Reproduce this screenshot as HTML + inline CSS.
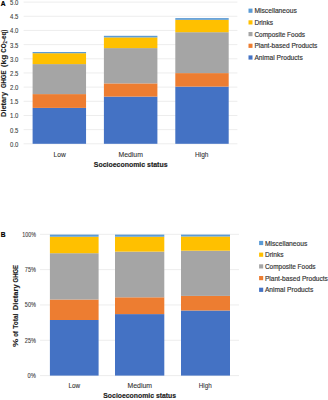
<!DOCTYPE html>
<html><head><meta charset="utf-8"><style>
html,body{margin:0;padding:0;background:#fff;width:328px;height:400px;overflow:hidden}
svg{display:block}
text{font-family:"Liberation Sans", sans-serif}
</style></head><body>
<svg width="328" height="400" viewBox="0 0 328 400">
<rect width="328" height="400" fill="#fff"/>
<rect x="23.60" y="143.30" width="213.80" height="1.00" fill="#EDEDED"/>
<rect x="23.60" y="129.13" width="213.80" height="1.00" fill="#EDEDED"/>
<rect x="23.60" y="114.96" width="213.80" height="1.00" fill="#EDEDED"/>
<rect x="23.60" y="100.79" width="213.80" height="1.00" fill="#EDEDED"/>
<rect x="23.60" y="86.62" width="213.80" height="1.00" fill="#EDEDED"/>
<rect x="23.60" y="72.45" width="213.80" height="1.00" fill="#EDEDED"/>
<rect x="23.60" y="58.28" width="213.80" height="1.00" fill="#EDEDED"/>
<rect x="23.60" y="44.11" width="213.80" height="1.00" fill="#EDEDED"/>
<rect x="23.60" y="29.94" width="213.80" height="1.00" fill="#EDEDED"/>
<rect x="23.60" y="15.77" width="213.80" height="1.00" fill="#EDEDED"/>
<rect x="23.60" y="1.60" width="213.80" height="1.00" fill="#EDEDED"/>
<text x="18.40" y="146.80" font-size="6.4" text-anchor="end" font-weight="normal" fill="#404040" stroke="#404040" stroke-width="0.1" textLength="8.30" lengthAdjust="spacingAndGlyphs" >0.0</text>
<text x="18.40" y="132.63" font-size="6.4" text-anchor="end" font-weight="normal" fill="#404040" stroke="#404040" stroke-width="0.1" textLength="8.30" lengthAdjust="spacingAndGlyphs" >0.5</text>
<text x="18.40" y="118.46" font-size="6.4" text-anchor="end" font-weight="normal" fill="#404040" stroke="#404040" stroke-width="0.1" textLength="8.30" lengthAdjust="spacingAndGlyphs" >1.0</text>
<text x="18.40" y="104.29" font-size="6.4" text-anchor="end" font-weight="normal" fill="#404040" stroke="#404040" stroke-width="0.1" textLength="8.30" lengthAdjust="spacingAndGlyphs" >1.5</text>
<text x="18.40" y="90.12" font-size="6.4" text-anchor="end" font-weight="normal" fill="#404040" stroke="#404040" stroke-width="0.1" textLength="8.30" lengthAdjust="spacingAndGlyphs" >2.0</text>
<text x="18.40" y="75.95" font-size="6.4" text-anchor="end" font-weight="normal" fill="#404040" stroke="#404040" stroke-width="0.1" textLength="8.30" lengthAdjust="spacingAndGlyphs" >2.5</text>
<text x="18.40" y="61.78" font-size="6.4" text-anchor="end" font-weight="normal" fill="#404040" stroke="#404040" stroke-width="0.1" textLength="8.30" lengthAdjust="spacingAndGlyphs" >3.0</text>
<text x="18.40" y="47.61" font-size="6.4" text-anchor="end" font-weight="normal" fill="#404040" stroke="#404040" stroke-width="0.1" textLength="8.30" lengthAdjust="spacingAndGlyphs" >3.5</text>
<text x="18.40" y="33.44" font-size="6.4" text-anchor="end" font-weight="normal" fill="#404040" stroke="#404040" stroke-width="0.1" textLength="8.30" lengthAdjust="spacingAndGlyphs" >4.0</text>
<text x="18.40" y="19.27" font-size="6.4" text-anchor="end" font-weight="normal" fill="#404040" stroke="#404040" stroke-width="0.1" textLength="8.30" lengthAdjust="spacingAndGlyphs" >4.5</text>
<text x="18.40" y="5.10" font-size="6.4" text-anchor="end" font-weight="normal" fill="#404040" stroke="#404040" stroke-width="0.1" textLength="8.30" lengthAdjust="spacingAndGlyphs" >5.0</text>
<rect x="32.60" y="107.90" width="53.45" height="35.90" fill="#4472C4"/>
<rect x="32.60" y="94.10" width="53.45" height="13.80" fill="#ED7D31"/>
<rect x="32.60" y="64.10" width="53.45" height="30.00" fill="#A5A5A5"/>
<rect x="32.60" y="53.20" width="53.45" height="10.90" fill="#FFC000"/>
<rect x="32.60" y="52.00" width="53.45" height="1.20" fill="#5B9BD5"/>
<rect x="103.90" y="96.60" width="53.50" height="47.20" fill="#4472C4"/>
<rect x="103.90" y="83.40" width="53.50" height="13.20" fill="#ED7D31"/>
<rect x="103.90" y="48.10" width="53.50" height="35.30" fill="#A5A5A5"/>
<rect x="103.90" y="37.40" width="53.50" height="10.70" fill="#FFC000"/>
<rect x="103.90" y="35.80" width="53.50" height="1.60" fill="#5B9BD5"/>
<rect x="175.30" y="86.60" width="53.40" height="57.20" fill="#4472C4"/>
<rect x="175.30" y="73.10" width="53.40" height="13.50" fill="#ED7D31"/>
<rect x="175.30" y="32.20" width="53.40" height="40.90" fill="#A5A5A5"/>
<rect x="175.30" y="19.80" width="53.40" height="12.40" fill="#FFC000"/>
<rect x="175.30" y="18.10" width="53.40" height="1.70" fill="#5B9BD5"/>
<text x="59.70" y="156.80" font-size="6.7" text-anchor="middle" font-weight="normal" fill="#333333" stroke="#333333" stroke-width="0.1" textLength="12.20" lengthAdjust="spacingAndGlyphs" >Low</text>
<text x="130.70" y="156.90" font-size="6.7" text-anchor="middle" font-weight="normal" fill="#333333" stroke="#333333" stroke-width="0.1" textLength="24.40" lengthAdjust="spacingAndGlyphs" >Medium</text>
<text x="201.70" y="156.90" font-size="6.7" text-anchor="middle" font-weight="normal" fill="#333333" stroke="#333333" stroke-width="0.1" textLength="13.40" lengthAdjust="spacingAndGlyphs" >High</text>
<text x="93.80" y="167.20" font-size="6.9" text-anchor="start" font-weight="bold" fill="#1a1a1a" stroke="#1a1a1a" stroke-width="0.15" textLength="73.70" lengthAdjust="spacingAndGlyphs" >Socioeconomic status</text>
<g transform="translate(6.0,117.2) rotate(-90)">
<text x="0.30" y="0.00" font-size="6.9" text-anchor="start" font-weight="bold" fill="#1a1a1a" stroke="#1a1a1a" stroke-width="0.12" textLength="25.00" lengthAdjust="spacingAndGlyphs" >Dietary</text>
<text x="29.10" y="0.00" font-size="6.9" text-anchor="start" font-weight="bold" fill="#1a1a1a" stroke="#1a1a1a" stroke-width="0.12" textLength="17.60" lengthAdjust="spacingAndGlyphs" >GHGE</text>
<text x="49.90" y="0.00" font-size="6.9" text-anchor="start" font-weight="bold" fill="#1a1a1a" stroke="#1a1a1a" stroke-width="0.12" textLength="12.60" lengthAdjust="spacingAndGlyphs" >(kg</text>
<text x="64.50" y="0.00" font-size="6.9" text-anchor="start" font-weight="bold" fill="#1a1a1a" stroke="#1a1a1a" stroke-width="0.12" textLength="23.00" lengthAdjust="spacingAndGlyphs" >CO<tspan font-size="4.6" dy="0.9">2</tspan><tspan dy="-0.9">-eq)</tspan></text>
</g>
<text x="0.80" y="5.60" font-size="6.6" text-anchor="start" font-weight="bold" fill="#000" stroke="#000" stroke-width="0.2" >A</text>
<rect x="248.50" y="8.60" width="4.00" height="4.20" fill="#5B9BD5"/>
<text x="254.40" y="13.20" font-size="7.6" text-anchor="start" font-weight="normal" fill="#333333" stroke="#333333" stroke-width="0.18" textLength="42.50" lengthAdjust="spacingAndGlyphs" >Miscellaneous</text>
<rect x="248.50" y="20.30" width="4.00" height="4.20" fill="#FFC000"/>
<text x="254.40" y="24.90" font-size="7.6" text-anchor="start" font-weight="normal" fill="#333333" stroke="#333333" stroke-width="0.18" textLength="18.70" lengthAdjust="spacingAndGlyphs" >Drinks</text>
<rect x="248.50" y="32.00" width="4.00" height="4.20" fill="#A5A5A5"/>
<text x="254.40" y="36.60" font-size="7.6" text-anchor="start" font-weight="normal" fill="#333333" stroke="#333333" stroke-width="0.18" textLength="50.70" lengthAdjust="spacingAndGlyphs" >Composite Foods</text>
<rect x="248.50" y="43.70" width="4.00" height="4.20" fill="#ED7D31"/>
<text x="254.40" y="48.30" font-size="7.6" text-anchor="start" font-weight="normal" fill="#333333" stroke="#333333" stroke-width="0.18" textLength="63.00" lengthAdjust="spacingAndGlyphs" >Plant-based Products</text>
<rect x="248.50" y="55.40" width="4.00" height="4.20" fill="#4472C4"/>
<text x="254.40" y="60.00" font-size="7.6" text-anchor="start" font-weight="normal" fill="#333333" stroke="#333333" stroke-width="0.18" textLength="48.40" lengthAdjust="spacingAndGlyphs" >Animal Products</text>
<rect x="40.00" y="375.10" width="199.00" height="1.00" fill="#EDEDED"/>
<rect x="40.00" y="339.78" width="199.00" height="1.00" fill="#EDEDED"/>
<rect x="40.00" y="304.45" width="199.00" height="1.00" fill="#EDEDED"/>
<rect x="40.00" y="269.12" width="199.00" height="1.00" fill="#EDEDED"/>
<rect x="40.00" y="233.80" width="199.00" height="1.00" fill="#EDEDED"/>
<text x="35.90" y="378.00" font-size="6.4" text-anchor="end" font-weight="normal" fill="#404040" stroke="#404040" stroke-width="0.1" textLength="8.30" lengthAdjust="spacingAndGlyphs" >0%</text>
<text x="35.90" y="342.68" font-size="6.4" text-anchor="end" font-weight="normal" fill="#404040" stroke="#404040" stroke-width="0.1" textLength="11.10" lengthAdjust="spacingAndGlyphs" >25%</text>
<text x="35.90" y="307.35" font-size="6.4" text-anchor="end" font-weight="normal" fill="#404040" stroke="#404040" stroke-width="0.1" textLength="11.10" lengthAdjust="spacingAndGlyphs" >50%</text>
<text x="35.90" y="272.02" font-size="6.4" text-anchor="end" font-weight="normal" fill="#404040" stroke="#404040" stroke-width="0.1" textLength="11.10" lengthAdjust="spacingAndGlyphs" >75%</text>
<text x="35.90" y="236.70" font-size="6.4" text-anchor="end" font-weight="normal" fill="#404040" stroke="#404040" stroke-width="0.1" textLength="13.60" lengthAdjust="spacingAndGlyphs" >100%</text>
<rect x="49.90" y="320.00" width="48.70" height="55.60" fill="#4472C4"/>
<rect x="49.90" y="299.50" width="48.70" height="20.50" fill="#ED7D31"/>
<rect x="49.90" y="253.20" width="48.70" height="46.30" fill="#A5A5A5"/>
<rect x="49.90" y="236.70" width="48.70" height="16.50" fill="#FFC000"/>
<rect x="49.90" y="234.60" width="48.70" height="2.10" fill="#5B9BD5"/>
<rect x="115.00" y="314.10" width="49.30" height="61.50" fill="#4472C4"/>
<rect x="115.00" y="297.30" width="49.30" height="16.80" fill="#ED7D31"/>
<rect x="115.00" y="251.60" width="49.30" height="45.70" fill="#A5A5A5"/>
<rect x="115.00" y="236.70" width="49.30" height="14.90" fill="#FFC000"/>
<rect x="115.00" y="234.60" width="49.30" height="2.10" fill="#5B9BD5"/>
<rect x="181.00" y="310.50" width="49.00" height="65.10" fill="#4472C4"/>
<rect x="181.00" y="295.90" width="49.00" height="14.60" fill="#ED7D31"/>
<rect x="181.00" y="250.70" width="49.00" height="45.20" fill="#A5A5A5"/>
<rect x="181.00" y="236.50" width="49.00" height="14.20" fill="#FFC000"/>
<rect x="181.00" y="234.60" width="49.00" height="1.90" fill="#5B9BD5"/>
<text x="74.30" y="387.60" font-size="6.7" text-anchor="middle" font-weight="normal" fill="#333333" stroke="#333333" stroke-width="0.1" textLength="11.60" lengthAdjust="spacingAndGlyphs" >Low</text>
<text x="139.80" y="387.60" font-size="6.7" text-anchor="middle" font-weight="normal" fill="#333333" stroke="#333333" stroke-width="0.1" textLength="24.40" lengthAdjust="spacingAndGlyphs" >Medium</text>
<text x="205.25" y="387.60" font-size="6.7" text-anchor="middle" font-weight="normal" fill="#333333" stroke="#333333" stroke-width="0.1" textLength="12.90" lengthAdjust="spacingAndGlyphs" >High</text>
<text x="103.30" y="398.40" font-size="6.9" text-anchor="start" font-weight="bold" fill="#1a1a1a" stroke="#1a1a1a" stroke-width="0.15" textLength="72.80" lengthAdjust="spacingAndGlyphs" >Socioeconomic status</text>
<g transform="translate(17.6,347.4) rotate(-90)">
<text x="0.30" y="0.00" font-size="6.9" text-anchor="start" font-weight="bold" fill="#1a1a1a" stroke="#1a1a1a" stroke-width="0.12" textLength="8.40" lengthAdjust="spacingAndGlyphs" >%</text>
<text x="10.55" y="0.00" font-size="6.9" text-anchor="start" font-weight="bold" fill="#1a1a1a" stroke="#1a1a1a" stroke-width="0.12" textLength="5.65" lengthAdjust="spacingAndGlyphs" >of</text>
<text x="18.70" y="0.00" font-size="6.9" text-anchor="start" font-weight="bold" fill="#1a1a1a" stroke="#1a1a1a" stroke-width="0.12" textLength="15.10" lengthAdjust="spacingAndGlyphs" >Total</text>
<text x="37.20" y="0.00" font-size="6.9" text-anchor="start" font-weight="bold" fill="#1a1a1a" stroke="#1a1a1a" stroke-width="0.12" textLength="25.90" lengthAdjust="spacingAndGlyphs" >Dietary</text>
<text x="64.90" y="0.00" font-size="6.9" text-anchor="start" font-weight="bold" fill="#1a1a1a" stroke="#1a1a1a" stroke-width="0.12" textLength="17.60" lengthAdjust="spacingAndGlyphs" >GHGE</text>
</g>
<text x="0.70" y="237.00" font-size="6.6" text-anchor="start" font-weight="bold" fill="#000" stroke="#000" stroke-width="0.2" >B</text>
<rect x="259.10" y="240.90" width="4.10" height="4.20" fill="#5B9BD5"/>
<text x="264.90" y="245.50" font-size="7.6" text-anchor="start" font-weight="normal" fill="#333333" stroke="#333333" stroke-width="0.18" textLength="42.50" lengthAdjust="spacingAndGlyphs" >Miscellaneous</text>
<rect x="259.10" y="252.60" width="4.10" height="4.20" fill="#FFC000"/>
<text x="264.90" y="257.20" font-size="7.6" text-anchor="start" font-weight="normal" fill="#333333" stroke="#333333" stroke-width="0.18" textLength="18.70" lengthAdjust="spacingAndGlyphs" >Drinks</text>
<rect x="259.10" y="264.30" width="4.10" height="4.20" fill="#A5A5A5"/>
<text x="264.90" y="268.90" font-size="7.6" text-anchor="start" font-weight="normal" fill="#333333" stroke="#333333" stroke-width="0.18" textLength="50.70" lengthAdjust="spacingAndGlyphs" >Composite Foods</text>
<rect x="259.10" y="276.00" width="4.10" height="4.20" fill="#ED7D31"/>
<text x="264.90" y="280.60" font-size="7.6" text-anchor="start" font-weight="normal" fill="#333333" stroke="#333333" stroke-width="0.18" textLength="63.00" lengthAdjust="spacingAndGlyphs" >Plant-based Products</text>
<rect x="259.10" y="287.70" width="4.10" height="4.20" fill="#4472C4"/>
<text x="264.90" y="292.30" font-size="7.6" text-anchor="start" font-weight="normal" fill="#333333" stroke="#333333" stroke-width="0.18" textLength="48.40" lengthAdjust="spacingAndGlyphs" >Animal Products</text>
</svg>
</body></html>
